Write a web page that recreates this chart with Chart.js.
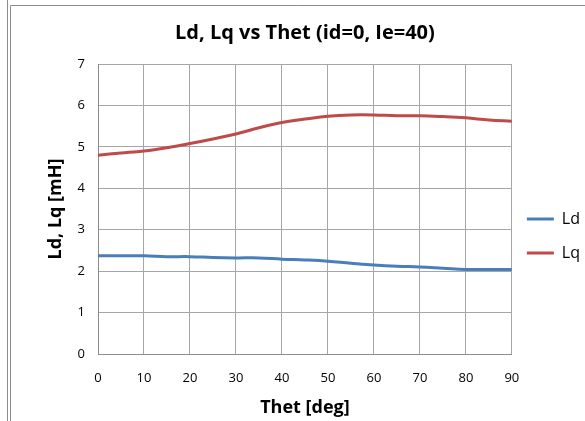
<!DOCTYPE html>
<html>
<head>
<meta charset="utf-8">
<script src="https://cdn.jsdelivr.net/npm/chart.js@4"></script>
<style>
  html, body { margin: 0; padding: 0; background: #fff; }
  canvas { display: block; }
</style>
</head>
<body>
<canvas id="chart" width="585" height="421"></canvas>
<script>
const thetDeg = [0, 5, 10, 15, 20, 25, 30, 35, 40, 45, 50, 55, 60, 65, 70, 75, 80, 85, 90];
const ldValues = [2.37, 2.37, 2.37, 2.35, 2.35, 2.33, 2.32, 2.32, 2.29, 2.27, 2.24, 2.19, 2.15, 2.12, 2.10, 2.07, 2.04, 2.04, 2.04];
const lqValues = [4.80, 4.85, 4.90, 4.98, 5.08, 5.19, 5.31, 5.46, 5.59, 5.67, 5.74, 5.77, 5.77, 5.75, 5.75, 5.73, 5.70, 5.65, 5.62];
const seriesNames = ['Ld', 'Lq'];
const xTicks = [0, 90, 10];   // min, max, step
const yTicks = [0, 7, 1];

const chartCanvas = document.getElementById('chart');
const fontFamily = "'Open Sans', 'Liberation Sans', sans-serif";

// thin grey frame lines of the spreadsheet chart object
const framePlugin = {
    id: 'frame',
    beforeDraw(chart) {
        const ctx = chart.ctx;
        ctx.save();
        ctx.strokeStyle = '#8c8c8c';
        ctx.lineWidth = 1;
        ctx.beginPath();
        ctx.moveTo(7.5, 0);
        ctx.lineTo(7.5, chart.height);
        ctx.moveTo(10.5, chart.height);
        ctx.lineTo(10.5, 5.5);
        ctx.lineTo(chart.width, 5.5);
        ctx.stroke();
        ctx.restore();
    },
    afterLayout(chart) {
        // nudge legend to where the original sits
        const lg = chart.legend;
        lg.left -= 3; lg.right -= 3;
        lg.top += 27; lg.bottom += 27;
    }
};

function toPoints(values) {
    return values.map((v, i) => ({ x: thetDeg[i], y: v }));
}

const chart = new Chart(chartCanvas, {
    type: 'line',
    data: {
        datasets: [{
            label: seriesNames[0],
            data: toPoints(ldValues),
            borderColor: '#4a7ebb',
            backgroundColor: '#4a7ebb',
            borderWidth: 3,
            pointRadius: 0,
            tension: 0.4,
            fill: false
        }, {
            label: seriesNames[1],
            data: toPoints(lqValues),
            borderColor: '#be4b48',
            backgroundColor: '#be4b48',
            borderWidth: 3,
            pointRadius: 0,
            tension: 0.4,
            fill: false
        }]
    },
    options: {
        responsive: false,
        animation: false,
        layout: { padding: { left: 10, right: -8, top: 0, bottom: 0 } },
        plugins: {
            title: {
                display: true,
                text: 'Ld, Lq vs Thet (id=0, Ie=40)',
                color: '#000',
                fullSize: false,
                font: { family: fontFamily, size: 20, weight: 'bold' },
                padding: { top: 21, bottom: 19 }
            },
            legend: {
                position: 'right',
                fullSize: false,
                labels: {
                    color: '#000',
                    font: { family: fontFamily, size: 16 },
                    usePointStyle: true,
                    pointStyle: 'line',
                    pointStyleWidth: 27,
                    padding: 18
                }
            },
            tooltip: { enabled: false }
        },
        scales: {
            x: {
                type: 'linear',
                min: xTicks[0],
                max: xTicks[1],
                afterFit: s => { s.height = 67; },
                ticks: {
                    stepSize: xTicks[2],
                    color: '#000',
                    padding: 16,
                    font: { family: fontFamily, size: 13 }
                },
                grid: { color: '#a6a6a6', drawTicks: false },
                border: { color: '#8c8c8c' },
                title: {
                    display: true,
                    text: 'Thet [deg]',
                    color: '#000',
                    font: { family: fontFamily, size: 18, weight: 'bold' },
                    padding: { top: 0, bottom: 2 }
                }
            },
            y: {
                min: yTicks[0],
                max: yTicks[1],
                afterFit: s => { s.width = 88; },
                ticks: {
                    stepSize: yTicks[2],
                    color: '#000',
                    padding: 13,
                    font: { family: fontFamily, size: 13 }
                },
                grid: { color: '#a6a6a6', drawTicks: false },
                border: { color: '#8c8c8c' },
                title: {
                    display: true,
                    text: 'Ld, Lq [mH]',
                    color: '#000',
                    font: { family: fontFamily, size: 18, weight: 'bold' },
                    padding: { top: 35, bottom: 0 }
                }
            }
        }
    },
    plugins: [framePlugin]
});
</script>
</body>
</html>
